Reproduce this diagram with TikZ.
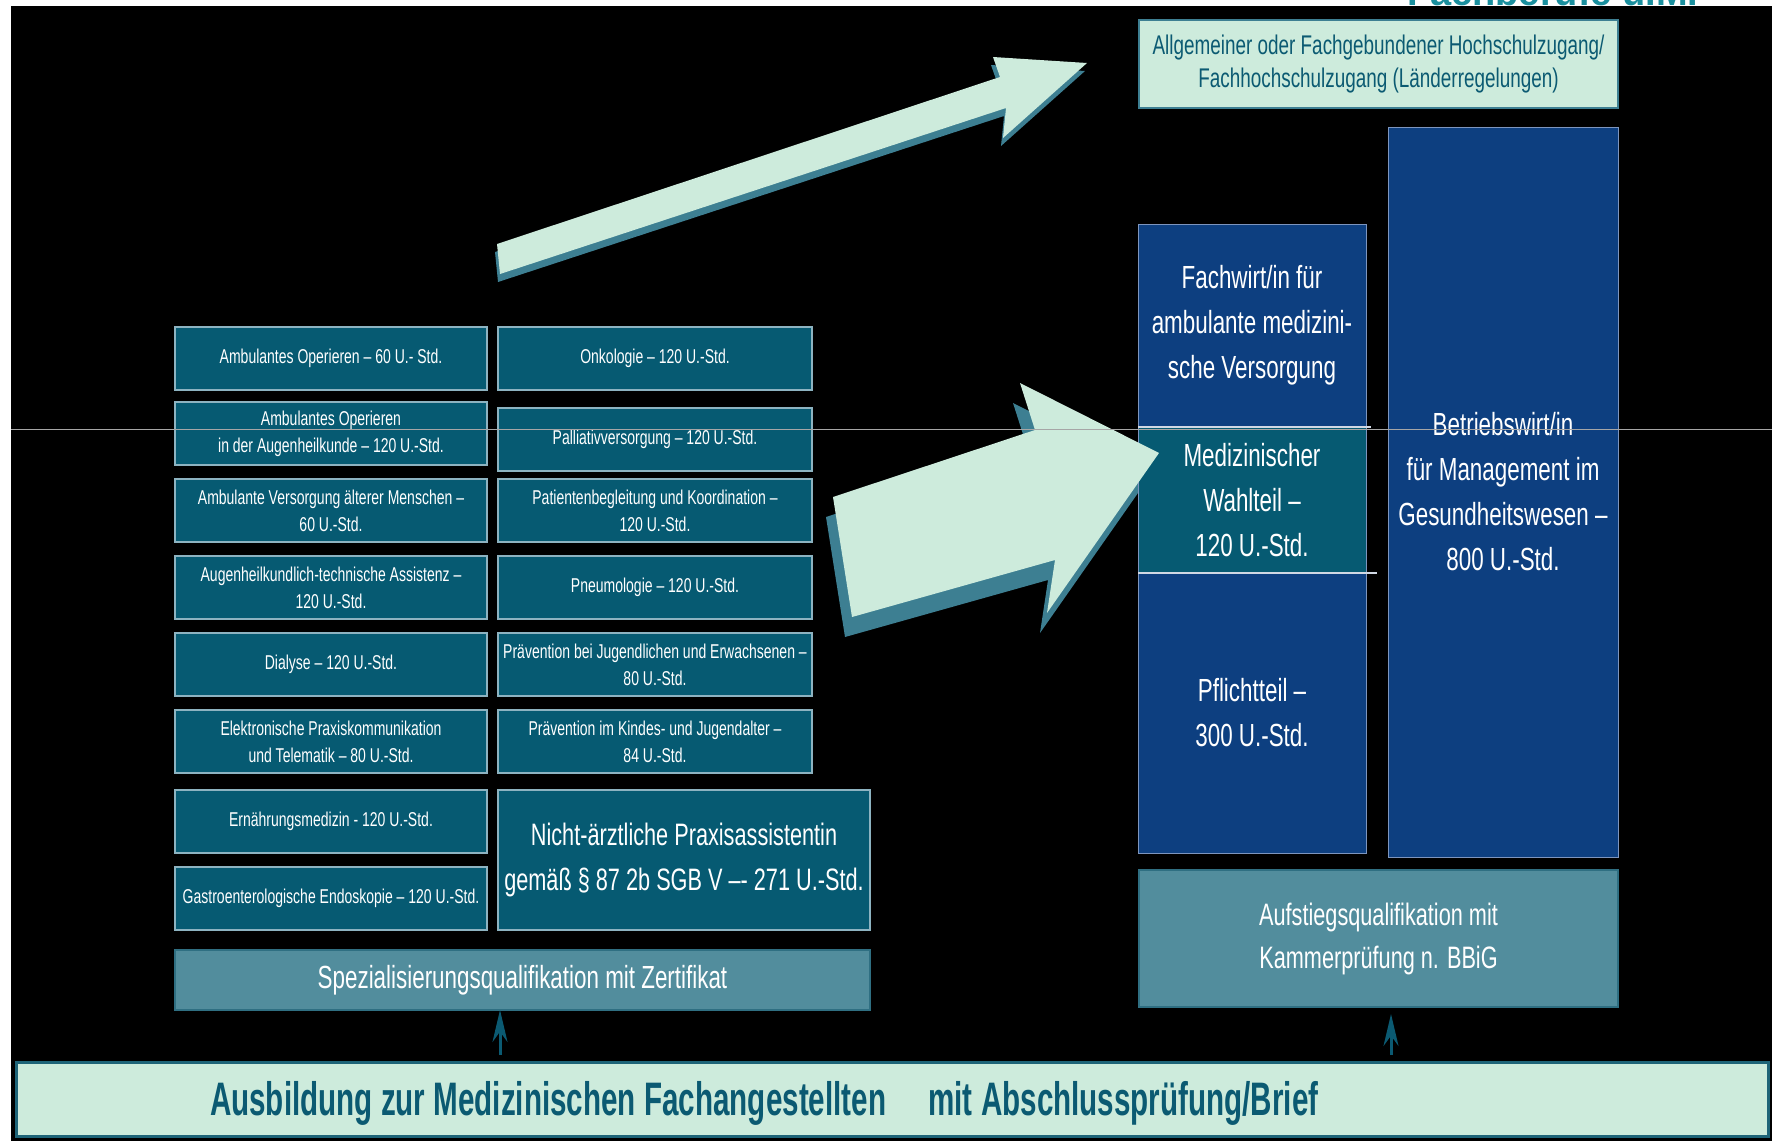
\documentclass[tikz,border=0pt]{standalone}
\usepackage{fontspec}
\setmainfont{Liberation Sans}[FakeStretch=0.7]
\newfontfamily\barfont{Liberation Sans}[FakeStretch=0.63]
\newfontfamily\plainfont{Liberation Sans}
\usetikzlibrary{positioning,arrows.meta}

\definecolor{boxteal}{HTML}{065A72}
\definecolor{boxline}{HTML}{8DB3C1}
\definecolor{colblue}{HTML}{0D3F80}
\definecolor{colline}{HTML}{7D95BE}
\definecolor{paleteal}{HTML}{528D9D}
\definecolor{paleline}{HTML}{2F6F82}
\definecolor{mint}{HTML}{CDEBDC}
\definecolor{shade}{HTML}{3D7F92}
\definecolor{darkteal}{HTML}{0B5A72}
\definecolor{barline}{HTML}{1E6478}
\definecolor{cyanteal}{HTML}{1A8F9E}
\definecolor{sepline}{HTML}{D0D8E4}

\begin{document}
\begin{tikzpicture}[x=1pt,y=-1pt]
      \tikzset{
        node distance=14pt,
        every node/.style={outer sep=0pt,align=center},
        smallbox/.style={rectangle,fill=boxteal,draw=boxline,line width=1.2pt,text=white,
          minimum width=312pt,minimum height=63pt,inner sep=2pt,
          font=\fontsize{20}{27}\selectfont},
        colbox/.style={rectangle,fill=colblue,draw=colline,line width=1pt,text=white,
          minimum width=228pt,inner sep=2pt,font=\fontsize{32}{45}\selectfont},
        palebox/.style={rectangle,fill=paleteal,draw=paleline,line width=2pt,text=white,
          inner sep=2pt,font=\fontsize{31}{43}\selectfont},
        mintbox/.style={rectangle,fill=mint,draw=shade,line width=2.5pt,text=darkteal,
          inner sep=2pt,font=\fontsize{27}{33}\selectfont},
        uparrow/.style={draw=darkteal,line width=3pt,-{Stealth[length=32pt,width=15pt]}},
        arrowfill/.style={fill=mint},
        arrowshade/.style={fill=shade}
      }

      \useasboundingbox (0,0) rectangle (1772,1141);
      \fill[white] (0,0) rectangle (1772,1141);
      \node[font=\plainfont\bfseries\fontsize{38}{42}\selectfont,text=cyanteal,
        anchor=base west,inner sep=0pt] (fachberufe) at (1407,5.5) {Fachberufe u.M.};
      \fill[black] (11,6) rectangle (1772,1141);

      % big arrows, shadow first
      \fill[arrowshade,shift={(-2,8)}] (497,244) -- (1000,77) -- (993,57) -- (1087,63)
        -- (1003,138) -- (1006,108) -- (500,274) -- cycle;
      \fill[arrowfill] (497,244) -- (1000,77) -- (993,57) -- (1087,63)
        -- (1003,138) -- (1006,108) -- (500,274) -- cycle;
      \fill[arrowshade,shift={(-7,20)}] (833,497) -- (1035,430) -- (1020,383) -- (1159,453)
        -- (1047,613) -- (1055,560) -- (852,617) -- cycle;

      % left column
      \node[smallbox,anchor=north west] (l1) at (175,327) {Ambulantes Operieren – 60 U.- Std.};
      \node[smallbox,below=12pt of l1] (l2) {Ambulantes Operieren\\in der Augenheilkunde – 120 U.-Std.};
      \node[smallbox,below=of l2] (l3) {Ambulante Versorgung älterer Menschen –\\60 U.-Std.};
      \node[smallbox,below=of l3] (l4) {Augenheilkundlich-technische Assistenz –\\120 U.-Std.};
      \node[smallbox,below=of l4] (l5) {Dialyse – 120 U.-Std.};
      \node[smallbox,below=of l5] (l6) {Elektronische Praxiskommunikation\\und Telematik – 80 U.-Std.};
      \node[smallbox,below=17pt of l6] (l7) {Ernährungsmedizin - 120 U.-Std.};
      \node[smallbox,below=of l7] (l8) {Gastroenterologische Endoskopie – 120 U.-Std.};

      % right column
      \node[smallbox,minimum width=314pt,right=11pt of l1] (r1) {Onkologie – 120 U.-Std.};
      \node[smallbox,minimum width=314pt,below=18pt of r1] (r2) {Palliativversorgung – 120 U.-Std.};
      \node[smallbox,minimum width=314pt,right=11pt of l3] (r3) {Patientenbegleitung und Koordination –\\120 U.-Std.};
      \node[smallbox,minimum width=314pt,right=11pt of l4] (r4) {Pneumologie – 120 U.-Std.};
      \node[smallbox,minimum width=314pt,right=11pt of l5] (r5) {Prävention bei Jugendlichen und Erwachsenen –\\80 U.-Std.};
      \node[smallbox,minimum width=314pt,right=11pt of l6] (r6) {Prävention im Kindes- und Jugendalter –\\84 U.-Std.};
      \node[smallbox,minimum width=372pt,minimum height=140pt,anchor=north west,
        font=\fontsize{31}{45}\selectfont] (napa) at ([xshift=11pt]l7.north east)
        {Nicht-ärztliche Praxisassistentin\\gemäß § 87 2b SGB V –- 271 U.-Std.};
      \node[palebox,minimum width=695pt,minimum height=60pt,anchor=north west,
        font=\fontsize{32}{40}\selectfont] (spez) at ([yshift=-20pt]l8.south west)
        {Spezialisierungsqualifikation mit Zertifikat};

      % right side
      \node[mintbox,minimum width=479pt,minimum height=88pt,anchor=north west] (hochschule)
        at (1139,20) {Allgemeiner oder Fachgebundener Hochschulzugang/\\Fachhochschulzugang (Länderregelungen)};
      \node[colbox,minimum width=230pt,minimum height=730pt,anchor=north west] (betrieb)
        at (1388,127) {Betriebswirt/in\\für Management im\\Gesundheitswesen –\\800 U.-Std.};
      \node[colbox,minimum height=203pt,anchor=north west] (fachwirt) at (1138,224)
        {Fachwirt/in für\\ambulante medizini-\\sche Versorgung};
      \node[colbox,fill=boxteal,minimum height=146pt,below=0pt of fachwirt] (wahlteil)
        {Medizinischer\\Wahlteil –\\120 U.-Std.};
      \node[colbox,minimum height=280pt,below=0pt of wahlteil] (pflicht)
        {Pflichtteil –\\300 U.-Std.};
      \draw[sepline,line width=2pt] (wahlteil.north west) -- ([xshift=5pt]wahlteil.north east);
      \draw[sepline,line width=2pt] (wahlteil.south west) -- ([xshift=11pt]wahlteil.south east);
      \node[palebox,minimum width=479pt,minimum height=137pt,anchor=north west] (aufstieg)
        at (1139,870) {Aufstiegsqualifikation mit\\Kammerprüfung n. BBiG};

      \fill[arrowfill] (833,497) -- (1035,430) -- (1020,383) -- (1159,453)
        -- (1047,613) -- (1055,560) -- (852,617) -- cycle;

      % bottom bar
      \node[rectangle,fill=mint,draw=barline,line width=3pt,minimum width=1752pt,
        minimum height=74pt,anchor=north west] (ausbildung) at (16,1062) {};
      \node[font=\barfont\bfseries\fontsize{47}{50}\selectfont,text=darkteal,
        anchor=base west,inner sep=0pt] (ausbildungtext)
        at ([xshift=194pt,yshift=-16pt]ausbildung.west)
        {Ausbildung zur Medizinischen Fachangestellten\hspace{34pt} mit Abschlussprüfung/Brief};

      \coordinate (s1) at (500,1055);
      \coordinate (s2) at (1391,1055);
      \draw[uparrow] (s1) -- (s1 |- spez.south);
      \draw[uparrow,shorten >=7pt] (s2) -- (s2 |- aufstieg.south);

      \draw[gray!70,line width=0.8pt] (11,429) -- (1772,429);
\end{tikzpicture}
\end{document}
